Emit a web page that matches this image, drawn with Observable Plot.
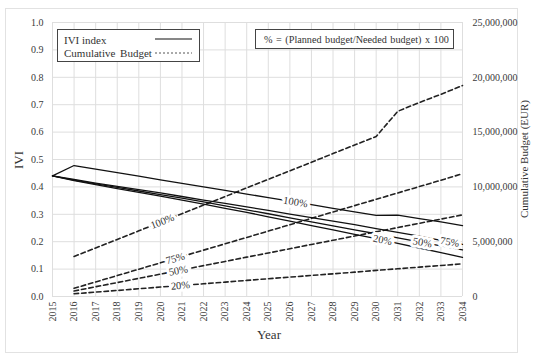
<!DOCTYPE html>
<html><head><meta charset="utf-8">
<script src="https://cdn.jsdelivr.net/npm/d3@7"></script>
<script src="https://cdn.jsdelivr.net/npm/@observablehq/plot@0.6"></script>
<style>
body{margin:0;background:#fff;}
#wrap{position:relative;width:550px;height:359px;overflow:hidden;font-family:"Liberation Serif",serif;color:#333;}
#frame{position:absolute;left:5px;top:8px;width:511px;height:343px;border:1px solid #e2e2e2;}
#chart{position:absolute;left:0;top:0;}
.leg{position:absolute;border:1px solid #444;background:#fff;}
.lab{position:absolute;white-space:nowrap;color:#333;}
</style></head><body>
<div id="wrap">
<div id="frame"></div>
<div id="chart"></div>
<div class="leg" style="left:57px;top:29px;width:141px;height:31px;">
<svg width="141" height="31" style="display:block">
<text x="6" y="13.5" font-size="11" fill="#333" font-family="Liberation Serif">IVI index</text>
<text x="6" y="26.5" font-size="11" fill="#333" font-family="Liberation Serif" style="word-spacing:2px">Cumulative Budget</text>
<line x1="97" x2="134" y1="9" y2="9" stroke="#111" stroke-width="1.2"/>
<line x1="97" x2="134" y1="23" y2="23" stroke="#555" stroke-width="1" stroke-dasharray="2,2"/>
</svg></div>
<div class="leg" style="left:255px;top:29px;width:197px;height:18px;">
<svg width="197" height="18" style="display:block">
<text x="8" y="13" font-size="10.2" fill="#333" font-family="Liberation Serif" style="word-spacing:1px">% = (Planned budget/Needed budget) x 100</text>
</svg></div>
<div class="lab" style="left:257px;top:327px;font-size:13px;">Year</div>
<div class="lab" style="left:10px;top:152px;font-size:13px;transform:rotate(-90deg);">IVI</div>
<div class="lab" id="rlab" style="font-size:11px;">Cumulative Budget (EUR)</div>
</div>
<script>
const years = [2015,2016,2017,2018,2019,2020,2021,2022,2023,2024,2025,2026,2027,2028,2029,2030,2031,2032,2033,2034];
const budgetYears = [2016,2017,2018,2019,2020,2021,2022,2023,2024,2025,2026,2027,2028,2029,2030,2031,2032,2033,2034];
const iviTicks = [0,0.1,0.2,0.3,0.4,0.5,0.6,0.7,0.8,0.9,1.0];
const budgetTicks = [0,5000000,10000000,15000000,20000000,25000000];
const BUDGET_MAX = 25000000;

// IVI index per scenario (2015-2034)
const ivi100 = [0.44,0.478,0.465,0.452,0.439,0.426,0.413,0.400,0.387,0.374,0.361,0.348,0.335,0.322,0.309,0.296,0.297,0.284,0.272,0.259];
const ivi75  = [0.44,0.427,0.414,0.402,0.390,0.378,0.365,0.352,0.340,0.327,0.314,0.301,0.288,0.275,0.262,0.248,0.234,0.220,0.205,0.190];
const ivi50  = [0.44,0.425,0.411,0.398,0.385,0.372,0.359,0.345,0.331,0.316,0.302,0.287,0.272,0.258,0.243,0.229,0.214,0.199,0.185,0.170];
const ivi20  = [0.44,0.423,0.408,0.394,0.380,0.366,0.352,0.337,0.322,0.307,0.291,0.275,0.259,0.243,0.227,0.211,0.194,0.177,0.160,0.143];

// Cumulative budget per scenario (EUR, 2016-2034)
const budget100 = [3650000,4430000,5210000,5990000,6780000,7560000,8340000,9120000,9910000,10690000,11470000,12250000,13040000,13820000,14600000,16900000,17700000,18450000,19250000];
const budget75  = [750000,1330000,1910000,2490000,3070000,3650000,4230000,4810000,5390000,5970000,6550000,7130000,7710000,8290000,8870000,9450000,10030000,10610000,11200000];
const budget50  = [500000,890000,1270000,1660000,2040000,2430000,2820000,3200000,3590000,3970000,4360000,4750000,5130000,5520000,5900000,6290000,6680000,7060000,7450000];
const budget20  = [250000,400000,550000,710000,860000,1010000,1160000,1310000,1470000,1620000,1770000,1920000,2070000,2220000,2380000,2530000,2680000,2830000,2980000];

const iviSeries = {"100%": ivi100, "75%": ivi75, "50%": ivi50, "20%": ivi20};
const budgetSeries = {"100%": budget100, "75%": budget75, "50%": budget50, "20%": budget20};

const iviRows = Object.entries(iviSeries).flatMap(([s, vals]) => vals.map((v, i) => ({series: s, year: years[i], value: v})));
const budgetRows = Object.entries(budgetSeries).flatMap(([s, vals]) => vals.map((v, i) => ({series: s, year: budgetYears[i], value: v / BUDGET_MAX})));

function at(xs, vals, yr) {
  const i = Math.min(Math.floor(yr - xs[0]), xs.length - 2);
  const t = yr - xs[i];
  return vals[i] + (vals[i + 1] - vals[i]) * t;
}
const labelCfg = [
  {kind: "b", s: "100%", yr: 2020.09, rot: -21.5},
  {kind: "b", s: "75%", yr: 2020.69, rot: -15.5},
  {kind: "b", s: "50%", yr: 2020.83, rot: -10.5},
  {kind: "b", s: "20%", yr: 2020.93, rot: -4.5},
  {kind: "i", s: "100%", yr: 2026.26, rot: 9},
  {kind: "i", s: "75%", yr: 2033.41, rot: 9},
  {kind: "i", s: "50%", yr: 2032.14, rot: 10},
  {kind: "i", s: "20%", yr: 2030.3, rot: 11}
];
const labels = labelCfg.map(c => ({
  text: c.s, year: c.yr, rot: c.rot,
  value: c.kind === "i" ? at(years, iviSeries[c.s], c.yr) : at(budgetYears, budgetSeries[c.s], c.yr) / BUDGET_MAX
}));

const plot = Plot.plot({
  width: 550, height: 359,
  marginLeft: 52, marginRight: 88, marginTop: 22, marginBottom: 63,
  style: {fontFamily: "Liberation Serif", fontSize: "10px", color: "#3a3a3a", background: "transparent"},
  x: {domain: [2015, 2034]},
  y: {domain: [0, 1]},
  marks: [
    Plot.gridX(years, {stroke: "#dedede", strokeOpacity: 1}),
    Plot.gridY(iviTicks, {stroke: "#dedede", strokeOpacity: 1}),
    Plot.line(budgetRows, {x: "year", y: "value", z: "series", stroke: "#222", strokeWidth: 1.6, strokeDasharray: "4.5,3"}),
    Plot.line(iviRows, {x: "year", y: "value", z: "series", stroke: "#111", strokeWidth: 1.3}),
    Plot.text(labels, {x: "year", y: "value", text: "text", rotate: "rot", fill: "#333", stroke: "white", strokeWidth: 6, fontSize: 10.5}),
    Plot.axisX(years, {tickSize: 0, tickPadding: 5, tickRotate: -90, tickFormat: d => String(d), label: null}),
    Plot.axisY(iviTicks, {tickSize: 0, tickPadding: 9, tickFormat: d3.format(".1f"), label: null}),
    Plot.axisY(budgetTicks.map(v => v / BUDGET_MAX), {anchor: "right", tickSize: 0, tickPadding: 10, tickFormat: d => d3.format(",")(Math.round(d * BUDGET_MAX)), textAnchor: "start", label: null})
  ]
});
document.getElementById("chart").appendChild(plot);
const rl = document.getElementById("rlab");
rl.style.left = "0px"; rl.style.top = "0px";
const w = rl.offsetWidth, h = rl.offsetHeight;
rl.style.left = (524 - w / 2) + "px";
rl.style.top = (159 - h / 2) + "px";
rl.style.transform = "rotate(-90deg)";
</script>
</body></html>
